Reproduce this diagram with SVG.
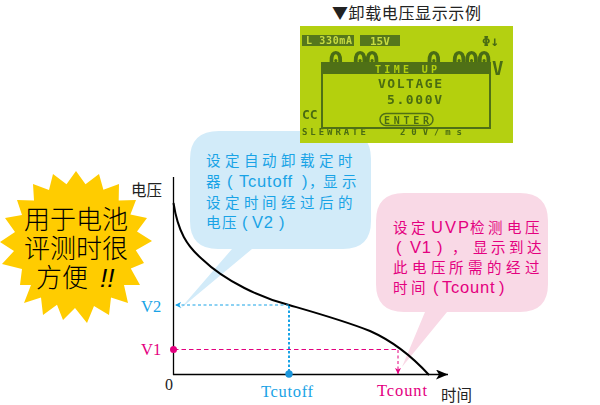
<svg xmlns="http://www.w3.org/2000/svg" width="600" height="405" viewBox="0 0 600 405">
<style>
.cjk{font-family:"Liberation Sans","Noto Sans CJK SC",sans-serif}
.ser{font-family:"Liberation Serif",serif}
.blue{fill:#19a3e6}
.pink{fill:#e4007f}
.bt{font-size:14.500px}
.lat{font-size:16.500px;letter-spacing:.8px}
.st{font-size:26px;fill:#000;font-family:"Noto Sans CJK SC",sans-serif;font-weight:300}
.lbl{font-size:15.500px;fill:#222;font-family:"Noto Sans CJK SC",sans-serif}
.lcd{font-family:"DejaVu Sans Mono",monospace;fill:#4a6c12;font-weight:bold}
.ln{fill:none}
</style>
<defs>
<marker id="ab" markerWidth="7" markerHeight="6" refX="6" refY="3" orient="auto" markerUnits="userSpaceOnUse"><path d="M0 0L6 3L0 6L1.500 3Z" fill="#19a3e6"/></marker>
<marker id="ap" markerWidth="7" markerHeight="6" refX="6" refY="3" orient="auto" markerUnits="userSpaceOnUse"><path d="M0 0L6 3L0 6L1.500 3Z" fill="#e4007f"/></marker>
<marker id="ak" markerWidth="13" markerHeight="10" refX="12" refY="5" orient="auto" markerUnits="userSpaceOnUse"><path d="M0 0L12 5L0 10L3 5Z" fill="#000"/></marker>
<filter id="soft" x="-2%" y="-2%" width="104%" height="104%"><feGaussianBlur stdDeviation="0.6"/></filter>
</defs>

<g id="callout-v2">
<path d="M219 131H343Q371 131 371 159V221Q371 249 343 249H252L180 309L232 249H218Q190 249 190 221V159Q190 131 219 131Z" fill="#d2ebf9"/>
<g class="cjk blue bt">
<text x="206 225 244 262 281 300 319 338" y="166">设定自动卸载定时</text>
<text x="206" y="187">器</text>
<text x="227" y="187" class="lat">(</text>
<text x="239" y="187" class="lat">Tcutoff</text>
<text x="302" y="187" class="lat">)</text>
<text x="309" y="187">，</text>
<text x="323 342" y="187">显示</text>
<text x="206 225 244 262 281 300 319 338" y="208">设定时间经过后的</text>
<text x="206 222" y="228">电压</text>
<text x="242" y="228" class="lat">(</text>
<text x="252" y="228" class="lat">V2</text>
<text x="279" y="228" class="lat">)</text>
</g>
</g>

<g id="callout-v1">
<path d="M404 193H520Q548 193 548 221V284Q548 312 520 312H447L402 367L425 312H404Q376 312 376 284V221Q376 193 404 193Z" fill="#f9d9e6"/>
<g class="cjk pink bt">
<text x="393 411" y="233">设定</text>
<text x="431 445 458" y="233" class="lat">UVP</text>
<text x="470 488 507 525" y="233">检测电压</text>
<text x="396" y="253" class="lat">(</text>
<text x="410" y="253" class="lat">V1</text>
<text x="437" y="253" class="lat">)</text>
<text x="452" y="253">，</text>
<text x="473 491 509 527" y="253">显示到达</text>
<text x="393 412 431 449 468 487 506 525" y="273">此电压所需的经过</text>
<text x="393 411" y="293">时间</text>
<text x="433" y="293" class="lat">(</text>
<text x="442" y="293" class="lat">Tcount</text>
<text x="499" y="293" class="lat">)</text>
</g>
</g>

<g id="lcd-title">
<text x="332" y="19" font-size="16" fill="#222" font-family="Noto Sans CJK SC,sans-serif" textLength="149" lengthAdjust="spacing">▼卸载电压显示示例</text>
</g>

<g id="lcd-screen">
<rect x="300" y="26" width="213" height="117" fill="#b4d011"/>
<g filter="url(#soft)">
<rect x="302" y="35" width="52" height="11" fill="#55771a"/>
<rect x="360" y="35" width="40" height="11" fill="#55771a"/>
<text x="306" y="44" font-size="10" fill="#c8dc40" font-family="DejaVu Sans Mono,monospace" font-weight="bold" textLength="46">L 330mA</text>
<text x="370" y="44.500" font-size="11" fill="#c8dc40" font-family="DejaVu Sans Mono,monospace" font-weight="bold">15V</text>
<text x="482" y="46" font-size="14" class="lcd">Φ↓</text>
<text x="328" y="71" font-size="26" class="lcd" textLength="52">0.00</text>
<text x="426" y="71" font-size="26" class="lcd" textLength="66">0.000</text>
<text x="492" y="75" font-size="19" class="lcd">V</text>
<text x="302" y="119" font-size="13" class="lcd">CC</text>
<text x="302" y="135" font-size="9" class="lcd" textLength="64">SLEWRATE</text>
<text x="400" y="135" font-size="9" class="lcd" textLength="62">20V/ms</text>
<rect x="322" y="63" width="168" height="65" fill="#b4d011" stroke="#4f7015" stroke-width="2"/>
<rect x="322" y="63" width="168" height="11" fill="#4f7015"/>
<text x="375" y="72.500" font-size="10" font-family="DejaVu Sans Mono,monospace" font-weight="bold" fill="#b4d011" textLength="62">TIME UP</text>
<text x="378" y="88" font-size="13" class="lcd" textLength="64">VOLTAGE</text>
<text x="387" y="104" font-size="13" class="lcd" textLength="55">5.000V</text>
<rect x="380" y="113.500" width="53" height="12" rx="6" fill="none" stroke="#4f7015" stroke-width="1.500"/>
<text x="384" y="123.500" font-size="10" class="lcd" textLength="45">ENTER</text>
</g>
</g>

<g id="burst">
<polygon fill="#ffcc00" points="76,171 85.500,184.300 99,174 103.400,189.700 119,184 118.700,200.500 136,200 130.400,214.600 147,218 137,231.600 152,241 135.800,250.300 144,263 130.800,268.600 140,285 124,285 128,303 111,297.600 109,315 94,306 87,323 75,308 63,320 57,304.700 43,315 41,297.600 24,303 31,285 20,285 22,269 2,264 14,251 0,242 15,232 5,218 22,215 17,200 34,200.500 33,184 49,190 53,174 66.500,184.300"/>
<text class="st" x="24" y="229">用于电池</text>
<text class="st" x="24" y="258">评测时很</text>
<text class="st" x="36" y="287">方便</text>
<text class="st" x="100" y="287" font-style="italic" style="font-family:'Liberation Sans',sans-serif">!!</text>
</g>

<g id="connectors">
<path class="ln" d="M173.500 177V375" stroke="#000" stroke-width="1.300"/>
<path class="ln" d="M173 374.500H448" stroke="#000" stroke-width="1.300" marker-end="url(#ak)"/>
<path class="ln" d="M173.500 203C178 232 187 246 202 259C226 282 262 298 289 305C320 314 345 321 370 331C388 339 408 352 429 375" stroke="#000" stroke-width="2"/>
<path class="ln" d="M289 305H175" stroke="#19a3e6" stroke-width="1" stroke-dasharray="3 2.500" marker-end="url(#ab)"/>
<path class="ln" d="M289 306V374" stroke="#19a3e6" stroke-width="2" stroke-dasharray="2.500 2"/>
<path class="ln" d="M174 349.500H398" stroke="#e4007f" stroke-width="1" stroke-dasharray="4.500 3"/>
<path class="ln" d="M398 350V374" stroke="#e4007f" stroke-width="1" stroke-dasharray="3 2.500" marker-end="url(#ap)"/>
<circle cx="173.500" cy="349.500" r="3.500" fill="#e4007f"/>
<circle cx="289" cy="374" r="3.700" fill="#1a96dc"/>
</g>

<g id="axis-labels">
<text class="lbl" x="131" y="195.500">电压</text>
<text class="lbl" x="441" y="401">时间</text>
<text class="ser" x="165" y="390" font-size="16" fill="#222">0</text>
<text class="ser blue" x="141" y="312" font-size="16.500">V2</text>
<text class="ser pink" x="141" y="355" font-size="16.500">V1</text>
<text class="ser blue" x="261" y="397" font-size="16.500" textLength="52">Tcutoff</text>
<text class="ser pink" x="377" y="396" font-size="16.500" textLength="50">Tcount</text>
</g>
</svg>
